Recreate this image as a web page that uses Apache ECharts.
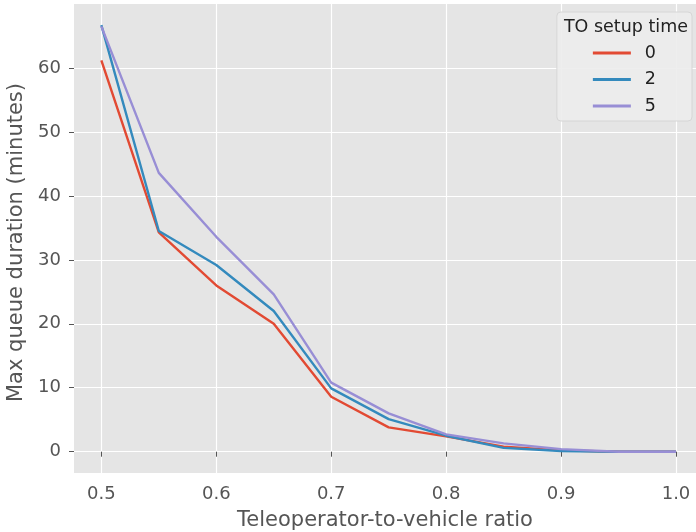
<!DOCTYPE html>
<html>
<head>
<meta charset="utf-8">
<script src="https://cdn.jsdelivr.net/npm/echarts@6/dist/echarts.min.js"></script>
<style>
  html, body { margin: 0; padding: 0; background: #fff; }
  #main { width: 696px; height: 532px; }
</style>
</head>
<body>
<div id="main"></div>
<script>
// teleoperator-to-vehicle ratio
const ratios = [0.5, 0.55, 0.6, 0.65, 0.7, 0.75, 0.8, 0.85, 0.9, 0.95, 1.0]
// max queue duration (minutes) per TO setup time
const setup0 = [61.2, 34.3, 26.0, 20.0, 8.6, 3.8, 2.4, 0.8, 0.2, 0.0, 0.0]
const setup2 = [66.7, 34.5, 29.2, 22.0, 9.9, 5.1, 2.5, 0.6, 0.1, 0.0, 0.0]
const setup5 = [66.5, 43.6, 33.6, 24.6, 10.8, 6.0, 2.7, 1.3, 0.4, 0.0, 0.0]
const xTicks = [0.5, 0.6, 0.7, 0.8, 0.9, 1.0]
const yTicks = [0, 10, 20, 30, 40, 50, 60]

const font = 'DejaVu Sans'
const txt = '#555555'

const pairs = arr => ratios.map((r, i) => [r, arr[i]])

const mkSeries = (name, data, color) => ({
  name: name,
  type: 'line',
  data: pairs(data),
  symbol: 'none',
  color: color,
  lineStyle: { width: 2.4, color: color },
  animation: false
})

const myChart = echarts.init(document.getElementById('main'))

myChart.setOption({
  backgroundColor: '#ffffff',
  animation: false,
  textStyle: { fontFamily: font },
  grid: { left: 74, right: 0, top: 4, bottom: 59, outerBoundsMode: 'none', containLabel: false,
    show: true, backgroundColor: '#e5e5e5', borderWidth: 0 },
  title: {
    text: 'TO setup time',
    right: 3,
    top: 13,
    textStyle: { fontFamily: font, fontSize: 17.5, fontWeight: 'normal', color: '#222' }
  },
  legend: {
    orient: 'vertical',
    right: 4,
    top: 12,
    padding: [32, 36, 6, 36],
    itemGap: 8.5,
    itemWidth: 38,
    itemHeight: 3,
    icon: 'rect',
    backgroundColor: 'rgba(236,236,236,0.9)',
    borderColor: '#d6d6d6',
    borderWidth: 1,
    borderRadius: 4,
    textStyle: { fontFamily: font, fontSize: 17.5, color: '#222', padding: [0, 0, 0, 9] },
    data: ['0', '2', '5']
  },
  xAxis: {
    type: 'value',
    min: 0.4762,
    max: 1.0174,
    name: 'Teleoperator-to-vehicle ratio',
    nameLocation: 'middle',
    nameGap: 37,
    nameTextStyle: { fontFamily: font, fontSize: 21, color: txt },
    axisLine: { show: false },
    axisTick: { show: true, customValues: xTicks, length: 5, lineStyle: { color: txt, width: 1 } },
    axisLabel: { customValues: xTicks, fontFamily: font, fontSize: 18, color: txt, margin: 12,
      formatter: v => v.toFixed(1) },
    splitLine: { show: true, lineStyle: { color: '#ffffff', width: 1.2 } }
  },
  yAxis: {
    type: 'value',
    min: -3.33,
    max: 70,
    name: 'Max queue duration (minutes)',
    nameLocation: 'middle',
    nameGap: 45,
    nameTextStyle: { fontFamily: font, fontSize: 21, color: txt, padding: [0, 8, 0, 0] },
    axisLine: { show: false },
    axisTick: { show: true, customValues: yTicks, length: 5, lineStyle: { color: txt, width: 1 } },
    axisLabel: { customValues: yTicks, fontFamily: font, fontSize: 18, color: txt, margin: 13 },
    splitLine: { show: true, lineStyle: { color: '#ffffff', width: 1.2 } }
  },
  series: [
    mkSeries('0', setup0, '#E24A33'),
    mkSeries('2', setup2, '#348ABD'),
    mkSeries('5', setup5, '#988ED5')
  ]
})
</script>
</body>
</html>
